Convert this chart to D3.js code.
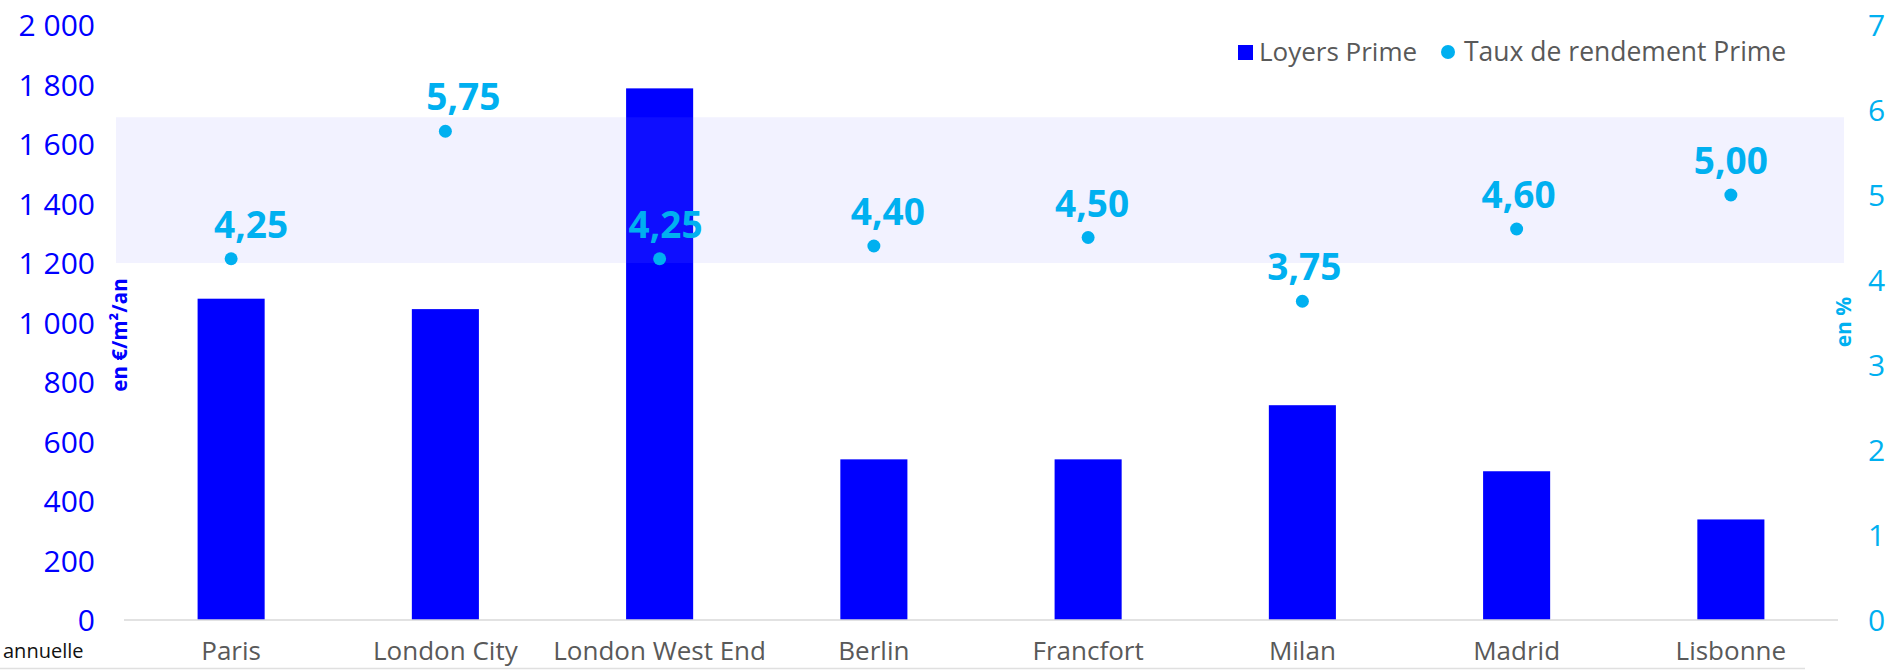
<!DOCTYPE html>
<html><head><meta charset="utf-8">
<script src="https://cdn.jsdelivr.net/npm/d3@7"></script>
<style>html,body{margin:0;padding:0;background:#fff;}svg{display:block;}</style>
</head><body>
<svg id="chart" width="1891" height="670"></svg>
<script>
const categories = ["Paris","London City","London West End","Berlin","Francfort","Milan","Madrid","Lisbonne"];
const loyersPrime = [1080, 1045, 1787, 540, 540, 722, 500, 338];
const tauxRendement = [4.25, 5.75, 4.25, 4.40, 4.50, 3.75, 4.60, 5.00];
const leftTicks = [0,200,400,600,800,1000,1200,1400,1600,1800,2000];
const leftTickLabels = ["0","200","400","600","800","1 000","1 200","1 400","1 600","1 800","2 000"];
const rightTicks = [0,1,2,3,4,5,6,7];
const rightTickLabels = ["0","1","2","3","4","5","6","7"];
const highlightBand = [1200, 1690];
const seriesNames = ["Loyers Prime","Taux de rendement Prime"];
const leftTitle = "en €/m²/an";
const rightTitle = "en %";
const footNote = "annuelle";
// label nudges (layout only)
const labelDx = [20, 18, 6, 14, 4, 2, 2, 0];

const BLUE = "#0000FF", CYAN = "#00B0F0", GREY = "#595959";
const svg = d3.select("#chart");
const plot = {left:124, right:1838, top:25, bottom:620};

const x = d3.scaleBand().domain(categories).range([plot.left, plot.right]).paddingInner(0.687).paddingOuter(0.3435);
const yL = d3.scaleLinear().domain([0,2000]).range([plot.bottom, plot.top]);
const yR = d3.scaleLinear().domain([0,7]).range([plot.bottom, plot.top]);
const fr = d3.formatLocale({decimal:",", thousands:"\u00a0", grouping:[3], currency:["","€"]});
const fmt2 = fr.format(".2f");

// bottom faint border
svg.append("line").attr("x1",0).attr("x2",1805).attr("y1",668.5).attr("y2",668.5).attr("stroke","#e0e0e0").attr("stroke-width",1.5);

// bars
svg.append("g").selectAll("rect").data(categories).join("rect")
  .attr("x", d=>x(d)).attr("width", x.bandwidth())
  .attr("y", (d,i)=>yL(loyersPrime[i])).attr("height",(d,i)=>yL(0)-yL(loyersPrime[i]))
  .attr("fill", BLUE);

// highlight band (semi-transparent over bars)
svg.append("rect").attr("x",116).attr("width",1844-116)
  .attr("y", yL(highlightBand[1])).attr("height", yL(highlightBand[0])-yL(highlightBand[1]))
  .attr("fill","rgb(128,128,255)").attr("fill-opacity",0.105);

// baseline
svg.append("line").attr("x1",plot.left).attr("x2",plot.right).attr("y1",yL(0)).attr("y2",yL(0))
  .attr("stroke","#D9D9D9").attr("stroke-width",1.5);

// left axis
const gL = svg.append("g").attr("transform",`translate(95,0)`)
  .call(d3.axisLeft(yL).tickValues(leftTicks).tickSize(0).tickPadding(0).tickFormat((d,i)=>leftTickLabels[i]));
gL.select(".domain").remove();
gL.selectAll("text").attr("fill",BLUE).style("font-family","'Open Sans'").style("font-size","30px").attr("dy","0.36em");

// right axis
const gR = svg.append("g").attr("transform",`translate(1868,0)`)
  .call(d3.axisRight(yR).tickValues(rightTicks).tickSize(0).tickPadding(0).tickFormat((d,i)=>rightTickLabels[i]));
gR.select(".domain").remove();
gR.selectAll("text").attr("fill",CYAN).style("font-family","'Open Sans'").style("font-size","30px").attr("dy","0.36em");

// category labels
svg.append("g").selectAll("text").data(categories).join("text")
  .attr("x", d=>x(d)+x.bandwidth()/2).attr("y",660).attr("text-anchor","middle")
  .attr("fill",GREY).style("font-family","'Open Sans'").style("font-size","26px").text(d=>d);

// points
svg.append("g").selectAll("circle").data(categories).join("circle")
  .attr("cx", d=>x(d)+x.bandwidth()/2).attr("cy",(d,i)=>yR(tauxRendement[i])).attr("r",6.5).attr("fill",CYAN);

// point labels
svg.append("g").selectAll("text").data(categories).join("text")
  .attr("x", (d,i)=>x(d)+x.bandwidth()/2+labelDx[i]).attr("y",(d,i)=>yR(tauxRendement[i])-21)
  .attr("text-anchor","middle").attr("fill",CYAN)
  .style("font-family","'Open Sans'").style("font-weight","700").style("font-size","37px")
  .text((d,i)=>fmt2(tauxRendement[i]));

// axis titles
svg.append("text").attr("transform","translate(127,335) rotate(-90)").attr("text-anchor","middle")
  .attr("fill",BLUE).style("font-family","'Open Sans'").style("font-weight","700").style("font-size","20.5px").text(leftTitle);
svg.append("text").attr("transform","translate(1851,322) rotate(-90)").attr("text-anchor","middle")
  .attr("fill",CYAN).style("font-family","'Open Sans'").style("font-weight","700").style("font-size","21px").text(rightTitle);

// legend
const lg = svg.append("g");
lg.append("rect").attr("x",1238).attr("y",45).attr("width",15).attr("height",15).attr("fill",BLUE);
lg.append("text").attr("x",1259).attr("y",61).attr("fill",GREY).style("font-family","'Open Sans'").style("font-size","26px").text(seriesNames[0]);
lg.append("circle").attr("cx",1448).attr("cy",52).attr("r",7).attr("fill",CYAN);
lg.append("text").attr("x",1464).attr("y",61).attr("fill",GREY).style("font-family","'Open Sans'").style("font-size","26.5px").text(seriesNames[1]);

// foot note
svg.append("text").attr("x",3).attr("y",658).attr("fill","#111").style("font-family","'Open Sans'").style("font-size","20px").text(footNote);
</script>
</body></html>
